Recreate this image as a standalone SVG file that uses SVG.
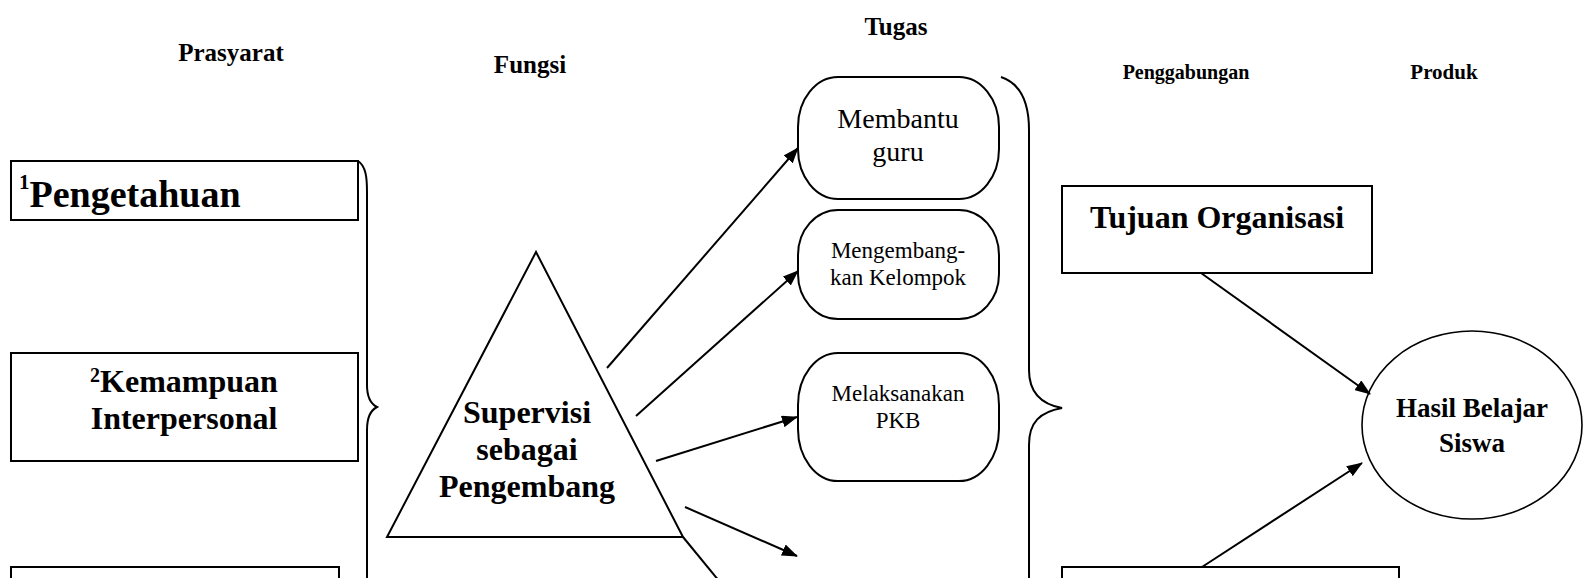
<svg xmlns="http://www.w3.org/2000/svg" width="1583" height="578" viewBox="0 0 1583 578">
<style>
.shape{fill:#fff;stroke:#000;stroke-width:2}
.brace{fill:none;stroke:#000;stroke-width:2}
.b{font-family:"Liberation Serif","Times New Roman",serif;font-weight:bold;fill:#000}
.r{font-family:"Liberation Serif","Times New Roman",serif;fill:#000}
.c{text-anchor:middle}
.conn line{stroke:#000;stroke-width:2}
.conn .arr{marker-end:url(#ah)}
</style>
<defs>
<marker id="ah" viewBox="0 0 16 12" refX="15" refY="6" markerWidth="16" markerHeight="12" markerUnits="userSpaceOnUse" orient="auto">
<path d="M0,0 L16,6 L0,12 Z" fill="#000"/>
</marker>
</defs>
<rect width="1583" height="578" fill="#fff"/>

<g id="headers">
<text class="b c" x="231" y="61" font-size="25">Prasyarat</text>
<text class="b c" x="530" y="73" font-size="25">Fungsi</text>
<text class="b c" x="896" y="35" font-size="25">Tugas</text>
<text class="b c" x="1186" y="79" font-size="20">Penggabungan</text>
<text class="b c" x="1444" y="79" font-size="21">Produk</text>
</g>

<g id="pengetahuan">
<rect class="shape" x="11" y="161" width="347" height="59"/>
<text class="b" x="19" y="207" font-size="38"><tspan font-size="21" dy="-18">1</tspan><tspan dy="18">Pengetahuan</tspan></text>
</g>

<g id="kemampuan">
<rect class="shape" x="11" y="353" width="347" height="108"/>
<text class="b c" x="184" y="392" font-size="32"><tspan font-size="20" dy="-10">2</tspan><tspan dy="10">Kemampuan</tspan></text>
<text class="b c" x="184" y="429" font-size="32">Interpersonal</text>
</g>

<g id="prasyarat3">
<rect class="shape" x="11" y="567" width="328" height="40"/>
</g>

<g id="brace-left">
<path class="brace" d="M358,161 C366,166 367,178 367,192 L367,385 C367,398 371,404 377,407 C371,410 367,416 367,430 L367,590"/>
</g>

<g id="supervisi">
<polygon class="shape" points="536,252 387,537 683,537"/>
<text class="b c" x="527" y="423" font-size="32">Supervisi</text>
<text class="b c" x="527" y="460" font-size="32">sebagai</text>
<text class="b c" x="527" y="497" font-size="32">Pengembang</text>
</g>

<g id="membantu">
<rect class="shape" x="798" y="77" width="201" height="122" rx="40" ry="50"/>
<text class="r c" x="898" y="128" font-size="28">Membantu</text>
<text class="r c" x="898" y="161" font-size="28">guru</text>
</g>

<g id="mengembangkan">
<rect class="shape" x="798" y="210" width="201" height="109" rx="40" ry="45"/>
<text class="r c" x="898" y="258" font-size="23">Mengembang-</text>
<text class="r c" x="898" y="285" font-size="23">kan Kelompok</text>
</g>

<g id="melaksanakan">
<rect class="shape" x="798" y="353" width="201" height="128" rx="40" ry="52"/>
<text class="r c" x="898" y="401" font-size="23">Melaksanakan</text>
<text class="r c" x="898" y="428" font-size="23">PKB</text>
</g>

<g id="brace-right">
<path class="brace" d="M1001,77 C1022,84 1029,105 1029,130 L1029,370 C1029,392 1040,404 1062,408 C1040,412 1029,422 1029,445 L1029,590"/>
</g>

<g id="tujuan">
<rect class="shape" x="1062" y="186" width="310" height="87"/>
<text class="b c" x="1217" y="228" font-size="32">Tujuan Organisasi</text>
</g>

<g id="penggabungan2">
<rect class="shape" x="1062" y="567" width="337" height="40"/>
</g>

<g id="hasil">
<ellipse class="shape" cx="1472" cy="425" rx="110" ry="94" style="stroke-width:1.6"/>
<text class="b c" x="1472" y="417" font-size="27">Hasil Belajar</text>
<text class="b c" x="1472" y="452" font-size="27">Siswa</text>
</g>

<g class="conn" id="connectors">
<line class="arr" x1="607" y1="368" x2="798" y2="148"/>
<line class="arr" x1="636" y1="416" x2="798" y2="271"/>
<line class="arr" x1="656" y1="461" x2="797" y2="417"/>
<line class="arr" x1="685" y1="507" x2="797" y2="556"/>
<line x1="683" y1="537" x2="724" y2="587"/>
<line class="arr" x1="1201" y1="273" x2="1370" y2="394"/>
<line class="arr" x1="1202" y1="567" x2="1362" y2="463"/>
</g>
</svg>
